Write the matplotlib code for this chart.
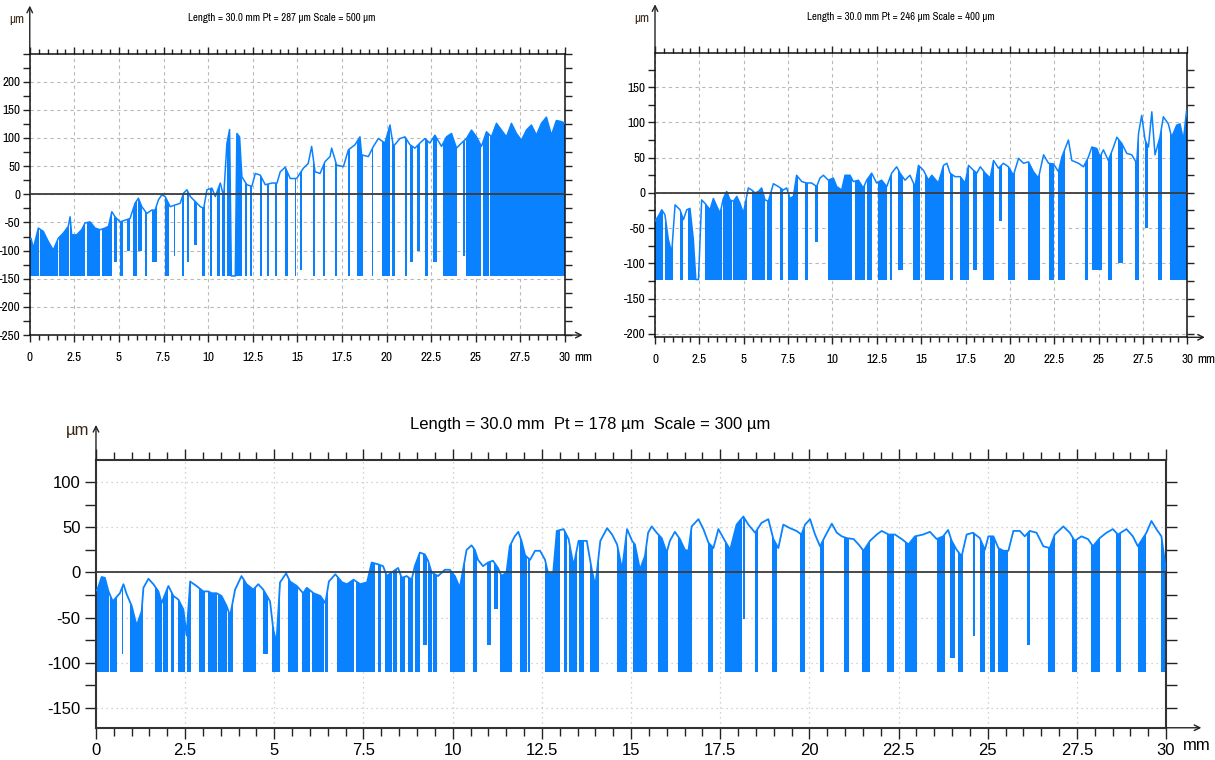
import numpy as np
import matplotlib
matplotlib.use('Agg')
import matplotlib.pyplot as plt
from matplotlib.path import Path
from matplotlib import font_manager

plt.rcParams['axes.unicode_minus'] = False

# pick a condensed face for the two small panels if one is installed
names = sorted({f.name for f in font_manager.fontManager.ttflist})
narrow = [n for n in names if 'Narrow' in n] + [n for n in names if 'Condensed' in n]
NARROW = ([narrow[0]] if narrow else []) + ['Liberation Sans', 'DejaVu Sans']
WIDE = ['Liberation Sans', 'DejaVu Sans']

BLUE = '#0a82ff'

# ---- panel 1 : Length 30 mm, Pt 287 um, Scale 500 um ----
p1_x = [0.0, 0.07, 0.2, 0.48, 0.76, 1.04, 1.32, 1.6, 1.88, 2.16,
        2.26, 2.35, 2.63, 2.91, 3.1, 3.38, 3.66, 3.94, 4.22, 4.41,
        4.6, 4.78, 5.06, 5.34, 5.62, 5.9, 6.09, 6.28, 6.56, 6.84,
        7.03, 7.21, 7.4, 7.59, 7.87, 8.15, 8.43, 8.62, 8.81, 9.0,
        9.28, 9.56, 9.75, 9.93, 10.21, 10.4, 10.68, 10.87, 11.05, 11.2,
        11.3, 11.52, 11.61, 11.76, 11.89, 12.17, 12.45, 12.64, 12.92, 13.2, 13.58,
        13.86, 14.04, 14.32, 14.6, 14.96, 15.33, 15.61, 15.8, 15.99, 16.27,
        16.55, 16.83, 16.92, 17.2, 17.58, 17.86, 18.23, 18.51, 18.6, 18.98,
        19.26, 19.54, 19.91, 20.19, 20.38, 20.75, 21.03, 21.31, 21.59, 21.87,
        22.15, 22.43, 22.71, 23.08, 23.36, 23.64, 23.92, 24.2, 24.48, 24.76,
        25.04, 25.32, 25.6, 25.88, 26.16, 26.44, 26.72, 27.0, 27.28, 27.56,
        27.84, 28.12, 28.4, 28.68, 28.96, 29.24, 29.52, 29.8, 30.0]
p1_y = [-80, -78, -96, -60, -66, -84, -99, -78, -69, -57,
        -40, -72, -72, -63, -51, -49, -60, -63, -60, -57,
        -31, -40, -49, -46, -43, -16, -7, -22, -34, -28,
        -28, -10, -1, -4, -22, -19, -16, 2, 8, -4,
        -13, -22, -25, 8, 11, -4, 20, -4, 90, 115,
        -145, -145, 108, 102, 31, 17, 14, 37, 34, 17, 20,
        20, 40, 48, 28, 28, 46, 55, 85, 40, 37,
        58, 67, 82, 52, 49, 79, 88, 102, 70, 67,
        85, 99, 91, 123, 85, 99, 102, 88, 82, 91,
        99, 91, 105, 85, 102, 108, 82, 91, 99, 114,
        102, 85, 111, 102, 126, 114, 102, 126, 108, 96,
        114, 123, 105, 126, 137, 105, 131, 129, 126]
p1_cut_x0 = [0.0, 0.55, 1.05, 1.65, 2.25, 3.2, 4.04, 4.7, 5.06, 5.43,
             5.81, 6.09, 6.47, 6.84, 7.59, 8.06, 8.52, 8.81, 9.18, 9.65,
             10.12, 10.49, 10.77, 11.05, 12.08, 12.36, 12.92, 13.3, 13.77, 14.32,
             14.85, 15.15, 15.89, 16.45, 17.1, 17.86, 18.33, 19.17, 19.73, 20.29,
             21.03, 21.31, 21.68, 22.15, 22.62, 23.17, 24.29, 24.48, 25.41, 25.8]
p1_cut_x1 = [0.5, 1.0, 1.6, 2.2, 3.1, 3.94, 4.6, 4.9, 5.25, 5.62,
             6.0, 6.28, 6.56, 7.12, 7.78, 8.15, 8.62, 8.9, 9.37, 9.84,
             10.21, 10.68, 10.96, 11.89, 12.17, 12.45, 13.01, 13.39, 13.86, 14.45,
             14.95, 15.24, 15.99, 16.55, 17.2, 17.95, 18.7, 19.26, 20.19, 20.47,
             21.12, 21.5, 21.87, 22.34, 22.81, 23.92, 24.4, 25.32, 25.75, 30.0]
p1_cut_lo = [-145, -145, -145, -145, -145, -145, -145, -120, -145, -100,
             -145, -100, -145, -120, -145, -110, -145, -120, -90, -145,
             -145, -145, -145, -145, -145, -145, -145, -145, -145, -145,
             -145, -135, -145, -145, -145, -145, -145, -145, -145, -145,
             -145, -120, -100, -145, -120, -145, -110, -145, -145, -145]

# ---- panel 2 : Length 30 mm, Pt 246 um, Scale 400 um ----
p2_x = [0.0, 0.19, 0.38, 0.56, 0.75, 0.94, 1.13, 1.41, 1.6, 1.79,
        1.97, 2.16, 2.3, 2.45, 2.63, 2.82, 3.1, 3.29, 3.48, 3.67,
        3.85, 4.04, 4.23, 4.42, 4.61, 4.79, 4.98, 5.26, 5.45, 5.64,
        5.83, 6.01, 6.2, 6.39, 6.67, 6.95, 7.23, 7.42, 7.61, 7.8,
        7.98, 8.27, 8.55, 8.83, 9.11, 9.3, 9.49, 9.77, 10.05, 10.24,
        10.52, 10.71, 10.99, 11.18, 11.46, 11.74, 11.93, 12.21, 12.49, 12.77,
        13.06, 13.34, 13.62, 13.81, 14.09, 14.37, 14.65, 14.85, 15.13, 15.41,
        15.6, 15.97, 16.26, 16.45, 16.63, 16.91, 17.2, 17.48, 17.67, 17.95,
        18.14, 18.33, 18.61, 18.89, 19.08, 19.36, 19.64, 19.92, 20.2, 20.49,
        20.77, 21.05, 21.33, 21.61, 21.9, 22.18, 22.46, 22.74, 22.93, 23.3,
        23.49, 23.87, 24.15, 24.43, 24.62, 24.9, 25.08, 25.27, 25.55, 25.84,
        26.03, 26.31, 26.59, 26.87, 27.15, 27.25, 27.43, 27.62, 27.81, 28.0,
        28.18, 28.46, 28.65, 28.93, 29.12, 29.4, 29.59, 29.78, 29.96, 30.0]
p2_y = [-40, -33, -24, -31, -66, -85, -17, -24, -38, -24,
        -22, -66, -123, -123, -10, -15, -24, -8, -19, -29,
        -8, 2, -10, -12, -5, -15, -29, 7, 4, 0,
        2, 7, -10, -12, 13, 9, 4, 7, -8, -5,
        25, 16, 14, 14, 9, 21, 25, 18, 21, 9,
        4, 25, 25, 16, 18, 7, 18, 28, 14, 18,
        9, 28, 37, 28, 18, 25, 9, 39, 32, 18,
        25, 14, 39, 42, 28, 23, 23, 14, 39, 32,
        28, 37, 28, 21, 46, 35, 42, 37, 25, 49,
        42, 44, 30, 21, 54, 42, 41, 30, 51, 75,
        46, 42, 37, 51, 65, 63, 51, 61, 46, 65,
        79, 70, 56, 54, 42, 84, 110, 75, 65, 115,
        54, 79, 108, 98, 79, 96, 98, 75, 117, 110]
p2_cut_x0 = [0.0, 0.56, 1.41, 1.88, 2.82, 3.85, 4.42, 5.45, 6.3, 7.04,
             7.51, 8.46, 9.02, 9.77, 11.27, 11.93, 12.58, 13.25, 13.72, 14.56,
             15.22, 16.63, 17.2, 17.95, 18.51, 19.36, 19.92, 21.05, 22.18, 22.74,
             24.24, 24.62, 25.55, 26.12, 27.06, 27.62, 28.37, 29.02]
p2_cut_x1 = [0.47, 1.04, 1.6, 2.44, 3.76, 4.32, 5.17, 6.2, 6.58, 7.23,
             8.08, 8.65, 9.21, 11.08, 11.83, 12.21, 13.06, 13.34, 14.0, 14.94,
             16.26, 16.82, 17.67, 18.14, 19.08, 19.54, 20.3, 21.71, 22.46, 23.11,
             24.43, 25.18, 25.74, 26.4, 27.25, 27.81, 28.56, 30.0]
p2_cut_lo = [-123, -123, -123, -123, -123, -123, -123, -123, -123, -123,
             -123, -123, -70, -123, -123, -123, -123, -123, -110, -123,
             -123, -123, -123, -110, -123, -40, -123, -123, -123, -123,
             -123, -110, -123, -100, -123, -50, -123, -123]

# ---- panel 3 : Length 30 mm, Pt 178 um, Scale 300 um ----
p3_x = [0.0, 0.04, 0.16, 0.25, 0.35, 0.47, 0.67, 0.77, 0.86, 1.0,
        1.14, 1.28, 1.33, 1.47, 1.61, 1.75, 1.84, 2.03, 2.17, 2.31,
        2.45, 2.54, 2.64, 2.82, 3.01, 3.15, 3.24, 3.38, 3.52, 3.66,
        3.76, 3.9, 4.08, 4.22, 4.41, 4.55, 4.69, 4.88, 4.97, 5.06,
        5.16, 5.33, 5.44, 5.63, 5.81, 5.91, 6.1, 6.29, 6.43, 6.53,
        6.71, 6.9, 7.04, 7.22, 7.41, 7.6, 7.73, 7.91, 8.05, 8.15,
        8.33, 8.47, 8.57, 8.71, 8.85, 8.94, 9.08, 9.22, 9.31, 9.41,
        9.59, 9.78, 9.92, 10.06, 10.2, 10.39, 10.53, 10.62, 10.71, 10.85,
        10.99, 11.13, 11.27, 11.37, 11.51, 11.6, 11.74, 11.84, 11.93, 12.03,
        12.17, 12.31, 12.45, 12.59, 12.68, 12.82, 12.92, 13.11, 13.25, 13.39,
        13.53, 13.76, 13.9, 14.0, 14.14, 14.33, 14.47, 14.61, 14.75, 14.89,
        15.03, 15.11, 15.25, 15.39, 15.48, 15.58, 15.72, 15.86, 16.0, 16.09,
        16.23, 16.37, 16.51, 16.61, 16.7, 16.89, 17.03, 17.17, 17.31, 17.45,
        17.59, 17.78, 17.96, 18.15, 18.29, 18.48, 18.66, 18.85, 18.99, 19.13,
        19.27, 19.46, 19.64, 19.78, 19.88, 20.02, 20.16, 20.3, 20.44, 20.63,
        20.77, 20.91, 21.05, 21.24, 21.38, 21.52, 21.7, 21.89, 22.03, 22.22,
        22.4, 22.59, 22.78, 22.96, 23.19, 23.38, 23.57, 23.75, 23.89, 23.99,
        24.13, 24.27, 24.41, 24.59, 24.78, 24.92, 25.02, 25.16, 25.3, 25.44,
        25.58, 25.72, 25.9, 26.04, 26.18, 26.37, 26.56, 26.74, 26.88, 27.12,
        27.3, 27.44, 27.63, 27.81, 27.95, 28.14, 28.33, 28.51, 28.65, 28.89,
        29.07, 29.21, 29.45, 29.59, 29.73, 29.87, 30.0]
p3_y = [-20, -19, -5, -6, -21, -32, -23, -13, -24, -37,
        -59, -43, -17, -7, -13, -21, -34, -15, -26, -30,
        -41, -70, -10, -15, -21, -21, -23, -23, -26, -37,
        -48, -19, -4, -13, -19, -13, -19, -32, -63, -78,
        -11, -1, -10, -15, -23, -17, -23, -26, -34, -10,
        -2, -11, -13, -8, -13, -11, 11, 9, 7, -4,
        1, 5, -6, -4, -8, 7, 22, 20, 13, 0,
        -4, 3, 3, -4, -17, 25, 30, 25, 14, 7,
        11, 13, 5, -4, 0, 29, 40, 45, 35, 19,
        14, 24, 24, 14, -2, 0, 46, 48, 37, 7,
        35, 35, 3, -15, 35, 49, 42, 31, 3, 48,
        35, 31, 3, 18, 44, 51, 44, 38, 22, 35,
        45, 37, 25, 24, 51, 59, 48, 33, 27, 48,
        38, 25, 53, 62, 53, 44, 55, 59, 37, 27,
        53, 49, 46, 42, 53, 59, 42, 29, 40, 54,
        44, 40, 38, 37, 31, 24, 35, 42, 46, 42,
        42, 37, 31, 40, 42, 45, 37, 40, 47, 35,
        25, 18, 42, 44, 38, 25, 40, 40, 27, 24,
        24, 46, 46, 40, 46, 44, 29, 27, 42, 51,
        44, 35, 40, 37, 29, 38, 44, 48, 42, 48,
        40, 29, 44, 57, 48, 40, 2]
p3_cut_x0 = [0.0, 0.4, 0.72, 0.96, 1.66, 1.87, 2.1, 2.3, 2.54, 2.9,
             3.15, 3.43, 3.7, 4.13, 4.69, 4.93, 5.39, 5.77, 6.05, 6.43,
             6.76, 7.3, 7.91, 8.1, 8.33, 8.52, 8.76, 8.94, 9.17, 9.31,
             9.45, 9.92, 10.57, 10.95, 11.17, 11.32, 11.88, 12.12, 12.59, 13.11,
             13.25, 13.53, 13.86, 14.61, 15.06, 15.77, 16.33, 17.17, 17.64, 18.15,
             18.48, 18.94, 19.73, 20.3, 20.96, 21.47, 22.17, 22.68, 23.57, 23.94,
             24.17, 24.59, 24.78, 25.07, 25.3, 26.09, 26.7, 27.35, 27.91, 28.61,
             29.21, 29.87]
p3_cut_x1 = [0.36, 0.58, 0.77, 1.33, 1.84, 2.03, 2.2, 2.5, 2.67, 3.05,
             3.38, 3.66, 3.85, 4.5, 4.83, 5.16, 5.67, 6.0, 6.38, 6.5,
             7.22, 7.82, 8.0, 8.29, 8.43, 8.66, 8.9, 9.08, 9.27, 9.41,
             9.55, 10.34, 10.67, 11.08, 11.27, 11.65, 12.07, 12.17, 13.01, 13.2,
             13.48, 13.67, 14.09, 14.89, 15.44, 16.05, 16.7, 17.31, 18.1, 18.2,
             18.57, 19.08, 19.88, 20.4, 21.1, 21.7, 22.36, 23.01, 23.8, 24.08,
             24.31, 24.64, 24.92, 25.21, 25.58, 26.18, 26.88, 27.49, 28.14, 28.75,
             29.45, 30.0]
p3_cut_lo = [-110, -110, -90, -110, -110, -110, -110, -110, -110, -110,
             -110, -110, -110, -110, -90, -110, -110, -110, -110, -110,
             -110, -110, -110, -110, -110, -110, -110, -110, -80, -110,
             -110, -110, -110, -80, -40, -110, -110, -110, -110, -110,
             -110, -110, -110, -110, -110, -110, -110, -110, -110, -52,
             -110, -110, -110, -110, -110, -110, -110, -110, -110, -95,
             -110, -70, -110, -110, -110, -80, -110, -110, -110, -110,
             -110, -110]

x_major = np.arange(0, 30.01, 2.5)
x_labels = ['0', '2.5', '5', '7.5', '10', '12.5', '15', '17.5', '20', '22.5', '25', '27.5', '30']


def draw_panel(rect, px, py, cx0, cx1, clo, ylim, yticks, title, title_x, small):
    ax = fig.add_axes(rect)

    # cuts (valleys) shown as solid bars, clipped to the area under the profile line
    outline = Path([(0, ylim[0])] + list(zip(px, py)) + [(30, ylim[0]), (0, ylim[0])])
    w = np.array(cx1) - np.array(cx0)
    bars = ax.bar(cx0, ylim[1] - np.array(clo), bottom=clo, width=w, align='edge',
                  color=BLUE, linewidth=0, zorder=2)
    for b in bars:
        b.set_clip_path(outline, ax.transData)
    ax.plot(px, py, color=BLUE, lw=1.1 if small else 1.3, zorder=3)
    ax.axhline(0, color='#3c3c3c', lw=1.3, zorder=4)

    fam = NARROW if small else WIDE
    fs = 9.5 if small else 12
    ax.set_xticks(x_major)
    ax.set_xticklabels(x_labels, family=fam, fontsize=fs)
    ax.set_xticks(np.arange(0, 30.01, 0.5), minor=True)
    ax.set_yticks(yticks)
    ax.set_yticklabels([str(v) for v in yticks], family=fam, fontsize=fs)
    lo25 = int(np.ceil(ylim[0] / 25.0)) * 25
    ax.set_yticks(np.arange(lo25, ylim[1] + 0.1, 25), minor=True)
    ax.set_xlim(0, 30)
    ax.set_ylim(*ylim)
    ax.tick_params(which='both', direction='out', top=True, right=True, labelright=False,
                   labeltop=False, width=1.0, color='#222222')
    ax.tick_params(axis='x', pad=7 if small else 3)
    ax.tick_params(axis='y', pad=2 if small else 3)
    ax.tick_params(which='major', length=5 if small else 8)
    ax.tick_params(axis='x', which='minor', length=3.5 if small else 6)
    ax.tick_params(axis='y', which='minor', length=5 if small else 8)

    if small:
        ax.grid(True, which='major', linestyle=(0, (3, 3)), color='#b9b9b9', lw=0.8, zorder=0)
    else:
        ax.grid(True, which='major', linestyle=(0, (1, 3)), color='#c4c4c4', lw=0.9, zorder=0)
    for s in ax.spines.values():
        s.set_color('#111111' if small else '#333333')
        s.set_linewidth(1.1 if small else 1.5)

    # axis arrows
    top = 1.17 if small else 1.133
    ax.annotate('', xy=(0, top), xytext=(0, 1.0), xycoords='axes fraction',
                arrowprops=dict(arrowstyle='->', color='#222222', lw=1.0, shrinkA=0, shrinkB=0,
                                mutation_scale=10))
    ax.annotate('', xy=(1.033, 0), xytext=(1.0, 0), xycoords='axes fraction',
                arrowprops=dict(arrowstyle='->', color='#222222', lw=1.0, shrinkA=0, shrinkB=0,
                                mutation_scale=10))
    ax.annotate('mm', xy=(1.0, 0), xycoords='axes fraction',
                xytext=(7 if small else 12, -(16 if small else 13)),
                textcoords='offset points', ha='left', va='center', family=fam, fontsize=fs)
    ax.annotate('µm', xy=(0, top), xycoords='axes fraction',
                xytext=(-4, -10) if small else (-5, -4),
                textcoords='offset points', ha='right', va='center', family=fam,
                fontsize=fs, color='#3a2814')
    title_y = 1.125 if small else 1.133
    ax.text(title_x, title_y, title, transform=ax.transAxes, ha='center',
            va='center', family=fam, fontsize=7.8 if small else 12)
    return ax


fig = plt.figure(figsize=(12.15, 7.6), dpi=100)

draw_panel([0.0245, 0.5591, 0.4405, 0.3705], p1_x, p1_y, p1_cut_x0, p1_cut_x1, p1_cut_lo,
           (-250, 250), list(range(200, -251, -50)),
           'Length = 30.0 mm Pt = 287 µm Scale = 500 µm', 0.47, True)
draw_panel([0.5391, 0.5562, 0.4381, 0.3745], p2_x, p2_y, p2_cut_x0, p2_cut_x1, p2_cut_lo,
           (-205, 199), list(range(150, -201, -50)),
           'Length = 30.0 mm Pt = 246 µm Scale = 400 µm', 0.462, True)
draw_panel([0.0790, 0.0424, 0.8807, 0.3517], p3_x, p3_y, p3_cut_x0, p3_cut_x1, p3_cut_lo,
           (-172, 124), list(range(100, -151, -50)),
           'Length = 30.0 mm  Pt = 178 µm  Scale = 300 µm', 0.462, False)

fig.savefig('out.png', dpi=100)
